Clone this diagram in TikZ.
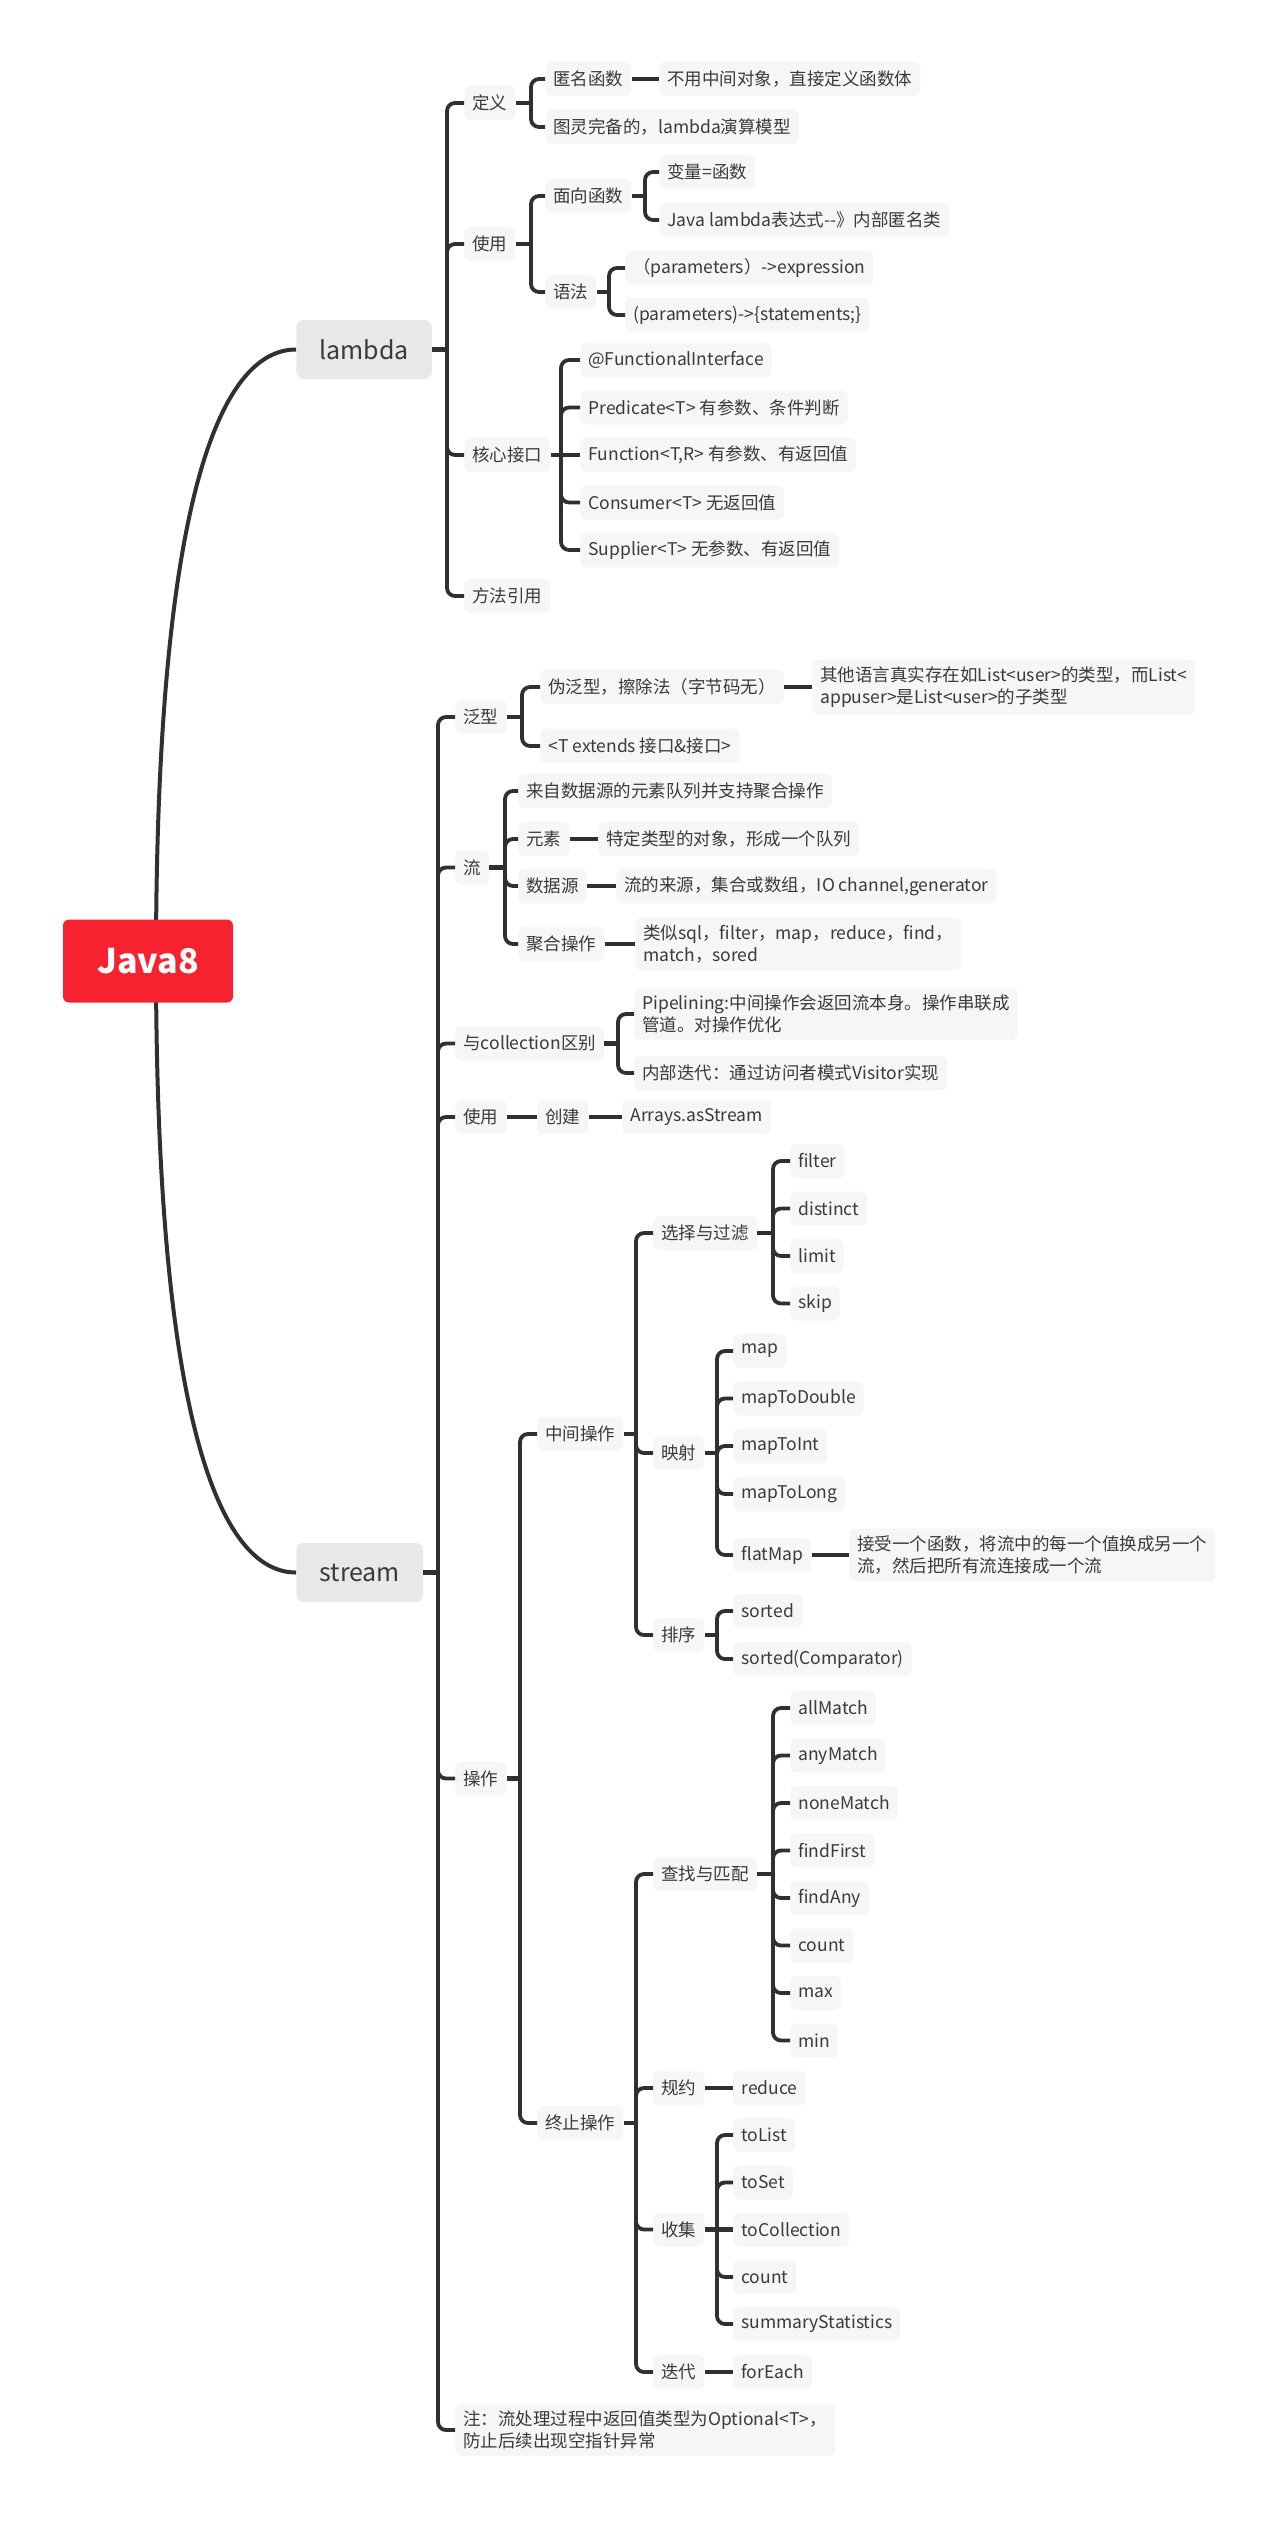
\documentclass[tikz,border=0pt]{standalone}
\usepackage{fontspec}
\setmainfont{Noto Sans CJK SC}
\usetikzlibrary{positioning}
\definecolor{rootred}{RGB}{246,34,48}
\definecolor{mainfill}{RGB}{232,232,232}
\definecolor{subfill}{RGB}{246,246,246}
\definecolor{linedark}{RGB}{48,48,48}
\definecolor{textgray}{RGB}{58,58,58}
\tikzset{
  font=\fontsize{8.75}{11}\selectfont,
  rootbox/.style={
    rounded corners=3pt,
    fill=rootred,
    text=white,
    font=\fontsize{17}{20}\selectfont\bfseries,
    minimum width=85pt,
    minimum height=41.5pt
  },
  mainbox/.style={
    rounded corners=3.5pt,
    fill=mainfill,
    text=textgray,
    font=\fontsize{12.5}{15}\selectfont,
    inner xsep=11.5pt,
    minimum height=29.5pt,
    anchor=west
  },
  subbox/.style={
    rounded corners=3pt,
    fill=subfill,
    text=textgray,
    align=left,
    inner xsep=4pt,
    inner ysep=3.5pt,
    minimum height=17pt,
    anchor=west
  },
  mainline/.style={draw=linedark,line width=2pt},
  branchline/.style={draw=linedark,line width=1.9pt,rounded corners=4pt},
  stubline/.style={draw=linedark,line width=2.4pt}
}

\begin{document}
\begin{tikzpicture}[x=0.5pt,y=-0.5pt]

  \useasboundingbox (0,0) rectangle (1277,2521);

  % main topics
  \coordinate (hub) at (156,961);
  \node[mainbox] at (296,349.5) (lambda) {lambda};
  \node[mainbox] at (296,1572.5) (stream) {stream};
  \draw[mainline] (hub) .. controls +(0,-461) and +(-76,0) .. (lambda.west);
  \draw[mainline] (hub) .. controls +(0,461) and +(-76,0) .. (stream.west);
  \node[rootbox] at (148,961) (root) {Java8};

  % lambda
  \node[subbox] at (464,103) (ldef) {定义};
  \node[subbox] at (545,79) (lanon) {匿名函数};
  \node[subbox] at (659,79) (lanondesc) {不用中间对象，直接定义函数体};
  \node[subbox] at (545,127) (lturing) {图灵完备的，lambda演算模型};

  \node[subbox] at (464,244) (luse) {使用};
  \node[subbox] at (545,196) (lfunc) {面向函数};
  \node[subbox] at (659,172) (lvar) {变量=函数};
  \node[subbox] at (659,220) (ljava) {Java lambda表达式-{}-》内部匿名类};
  \node[subbox] at (545,292) (lsyn) {语法};
  \node[subbox] at (625,268) (lexpr) {（parameters）->expression};
  \node[subbox] at (625,315) (lstmt) {(parameters)->\{statements;\}};

  \node[subbox] at (464,455) (lcore) {核心接口};
  \node[subbox] at (580,360) (lfi) {@FunctionalInterface};
  \node[subbox] at (580,407.5) (lpred) {Predicate<T> 有参数、条件判断};
  \node[subbox] at (580,455) (lfun) {Function<T,R> 有参数、有返回值};
  \node[subbox] at (580,502.5) (lcons) {Consumer<T> 无返回值};
  \node[subbox] at (580,550) (lsupp) {Supplier<T> 无参数、有返回值};

  \node[subbox] at (464,596) (lref) {方法引用};

  \coordinate (lambda-fork) at (447,349.5);
  \coordinate (ldef-fork) at (531,103);
  \coordinate (luse-fork) at (531,244);
  \coordinate (lfunc-fork) at (645,196);
  \coordinate (lsyn-fork) at (609,292);
  \coordinate (lcore-fork) at (561,455);

  \draw[stubline] (lambda.east) -- (lambda-fork);
  \draw[branchline] (lambda-fork) |- (ldef.west) (lambda-fork) |- (luse.west)
    (lambda-fork) |- (lcore.west) (lambda-fork) |- (lref.west);
  \draw[stubline] (ldef.east) -- (ldef-fork);
  \draw[branchline] (ldef-fork) |- (lanon.west) (ldef-fork) |- (lturing.west);
  \draw[stubline] (lanon) -- (lanondesc);
  \draw[stubline] (luse.east) -- (luse-fork);
  \draw[branchline] (luse-fork) |- (lfunc.west) (luse-fork) |- (lsyn.west);
  \draw[stubline] (lfunc.east) -- (lfunc-fork);
  \draw[branchline] (lfunc-fork) |- (lvar.west) (lfunc-fork) |- (ljava.west);
  \draw[stubline] (lsyn.east) -- (lsyn-fork);
  \draw[branchline] (lsyn-fork) |- (lexpr.west) (lsyn-fork) |- (lstmt.west);
  \draw[stubline] (lcore.east) -- (lfun.west);
  \draw[branchline] (lcore-fork) |- (lfi.west) (lcore-fork) |- (lpred.west)
    (lcore-fork) |- (lcons.west) (lcore-fork) |- (lsupp.west);

  % stream
  \node[subbox] at (455,717) (sgen) {泛型};
  \node[subbox] at (540,687) (sfake) {伪泛型，擦除法（字节码无）};
  \node[subbox] at (812,687) (sother) {其他语言真实存在如List<user>的类型，而List<\\appuser>是List<user>的子类型};
  \node[subbox] at (540,746) (sext) {<T extends 接口\&接口>};

  \node[subbox] at (455,867.5) (sflow) {流};
  \node[subbox] at (518,791) (sdef) {来自数据源的元素队列并支持聚合操作};
  \node[subbox] at (518,839) (selem) {元素};
  \node[subbox] at (598,839) (selemdesc) {特定类型的对象，形成一个队列};
  \node[subbox] at (518,886) (ssrc) {数据源};
  \node[subbox] at (616,886) (ssrcdesc) {流的来源，集合或数组，IO channel,generator};
  \node[subbox] at (518,944) (sagg) {聚合操作};
  \node[subbox] at (635,944) (saggdesc) {类似sql，filter，map，reduce，find，\\match，sored};

  \node[subbox] at (455,1043.5) (scoll) {与collection区别};
  \node[subbox] at (634,1014) (spipe) {Pipelining:中间操作会返回流本身。操作串联成\\管道。对操作优化};
  \node[subbox] at (634,1073) (siter) {内部迭代：通过访问者模式Visitor实现};

  \node[subbox] at (455,1117) (suse) {使用};
  \node[subbox] at (537,1117) (screate) {创建};
  \node[subbox] at (622,1117) (sarrays) {Arrays.asStream};

  \node[subbox] at (455,1778.5) (sop) {操作};
  \node[subbox] at (537,1434) (smid) {中间操作};
  \node[subbox] at (653,1233) (ssel) {选择与过滤};
  \node[subbox] at (790,1161) (sfilter) {filter};
  \node[subbox] at (790,1208.5) (sdistinct) {distinct};
  \node[subbox] at (790,1256) (slimit) {limit};
  \node[subbox] at (790,1303.5) (sskip) {skip};
  \node[subbox] at (653,1453) (smapping) {映射};
  \node[subbox] at (733,1351) (smap) {map};
  \node[subbox] at (733,1398.5) (smapd) {mapToDouble};
  \node[subbox] at (733,1446) (smapi) {mapToInt};
  \node[subbox] at (733,1494) (smapl) {mapToLong};
  \node[subbox] at (733,1555) (sflat) {flatMap};
  \node[subbox] at (849,1555) (sflatdesc) {接受一个函数，将流中的每一个值换成另一个\\流，然后把所有流连接成一个流};
  \node[subbox] at (653,1635) (ssort) {排序};
  \node[subbox] at (733,1611) (ssorted) {sorted};
  \node[subbox] at (733,1659) (ssortcmp) {sorted(Comparator)};

  \node[subbox] at (537,2123) (send) {终止操作};
  \node[subbox] at (653,1874) (sfind) {查找与匹配};
  \node[subbox] at (790,1708) (sall) {allMatch};
  \node[subbox] at (790,1755.5) (sany) {anyMatch};
  \node[subbox] at (790,1803) (snone) {noneMatch};
  \node[subbox] at (790,1850.5) (sfirst) {findFirst};
  \node[subbox] at (790,1898) (sfindany) {findAny};
  \node[subbox] at (790,1945.5) (scount) {count};
  \node[subbox] at (790,1993) (smax) {max};
  \node[subbox] at (790,2040.5) (smin) {min};
  \node[subbox] at (653,2088) (sred) {规约};
  \node[subbox] at (733,2088) (sreduce) {reduce};
  \node[subbox] at (653,2229.5) (scollect) {收集};
  \node[subbox] at (733,2135) (stolist) {toList};
  \node[subbox] at (733,2182.5) (stoset) {toSet};
  \node[subbox] at (733,2229.5) (stocoll) {toCollection};
  \node[subbox] at (733,2277) (scount2) {count};
  \node[subbox] at (733,2324) (ssummary) {summaryStatistics};
  \node[subbox] at (653,2372) (siterate) {迭代};
  \node[subbox] at (733,2372) (sforeach) {forEach};

  \node[subbox] at (455,2430) (snote) {注：流处理过程中返回值类型为Optional<T>，\\防止后续出现空指针异常};

  \coordinate (stream-fork) at (438,1572.5);
  \coordinate (sgen-fork) at (522,717);
  \coordinate (sflow-fork) at (505,867.5);
  \coordinate (scoll-fork) at (618,1043.5);
  \coordinate (sop-fork) at (520,1778.5);
  \coordinate (smid-fork) at (636,1434);
  \coordinate (ssel-fork) at (773,1233);
  \coordinate (smapping-fork) at (717,1453);
  \coordinate (ssort-fork) at (717,1635);
  \coordinate (send-fork) at (636,2123);
  \coordinate (sfind-fork) at (773,1874);
  \coordinate (scollect-fork) at (717,2229.5);

  \draw[stubline] (stream.east) -- (stream-fork);
  \draw[branchline] (stream-fork) |- (sgen.west) (stream-fork) |- (sflow.west)
    (stream-fork) |- (scoll.west) (stream-fork) |- (suse.west)
    (stream-fork) |- (sop.west) (stream-fork) |- (snote.west);

  \draw[stubline] (sgen.east) -- (sgen-fork);
  \draw[branchline] (sgen-fork) |- (sfake.west) (sgen-fork) |- (sext.west);
  \draw[stubline] (sfake) -- (sother);

  \draw[stubline] (sflow.east) -- (sflow-fork);
  \draw[branchline] (sflow-fork) |- (sdef.west) (sflow-fork) |- (selem.west)
    (sflow-fork) |- (ssrc.west) (sflow-fork) |- (sagg.west);
  \draw[stubline] (selem) -- (selemdesc);
  \draw[stubline] (ssrc) -- (ssrcdesc);
  \draw[stubline] (sagg) -- (saggdesc);

  \draw[stubline] (scoll.east) -- (scoll-fork);
  \draw[branchline] (scoll-fork) |- (spipe.west) (scoll-fork) |- (siter.west);

  \draw[stubline] (suse) -- (screate);
  \draw[stubline] (screate) -- (sarrays);

  \draw[stubline] (sop.east) -- (sop-fork);
  \draw[branchline] (sop-fork) |- (smid.west) (sop-fork) |- (send.west);

  \draw[stubline] (smid.east) -- (smid-fork);
  \draw[branchline] (smid-fork) |- (ssel.west) (smid-fork) |- (smapping.west)
    (smid-fork) |- (ssort.west);
  \draw[stubline] (ssel.east) -- (ssel-fork);
  \draw[branchline] (ssel-fork) |- (sfilter.west) (ssel-fork) |- (sdistinct.west)
    (ssel-fork) |- (slimit.west) (ssel-fork) |- (sskip.west);
  \draw[stubline] (smapping.east) -- (smapping-fork);
  \draw[branchline] (smapping-fork) |- (smap.west) (smapping-fork) |- (smapd.west)
    (smapping-fork) |- (smapi.west) (smapping-fork) |- (smapl.west)
    (smapping-fork) |- (sflat.west);
  \draw[stubline] (sflat) -- (sflatdesc);
  \draw[stubline] (ssort.east) -- (ssort-fork);
  \draw[branchline] (ssort-fork) |- (ssorted.west) (ssort-fork) |- (ssortcmp.west);

  \draw[stubline] (send.east) -- (send-fork);
  \draw[branchline] (send-fork) |- (sfind.west) (send-fork) |- (sred.west)
    (send-fork) |- (scollect.west) (send-fork) |- (siterate.west);
  \draw[stubline] (sfind.east) -- (sfind-fork);
  \draw[branchline] (sfind-fork) |- (sall.west) (sfind-fork) |- (sany.west)
    (sfind-fork) |- (snone.west) (sfind-fork) |- (sfirst.west)
    (sfind-fork) |- (sfindany.west) (sfind-fork) |- (scount.west)
    (sfind-fork) |- (smax.west) (sfind-fork) |- (smin.west);
  \draw[stubline] (sred) -- (sreduce);
  \draw[stubline] (scollect.east) -- (stocoll.west);
  \draw[branchline] (scollect-fork) |- (stolist.west) (scollect-fork) |- (stoset.west)
    (scollect-fork) |- (scount2.west) (scollect-fork) |- (ssummary.west);
  \draw[stubline] (siterate) -- (sforeach);

\end{tikzpicture}
\end{document}
